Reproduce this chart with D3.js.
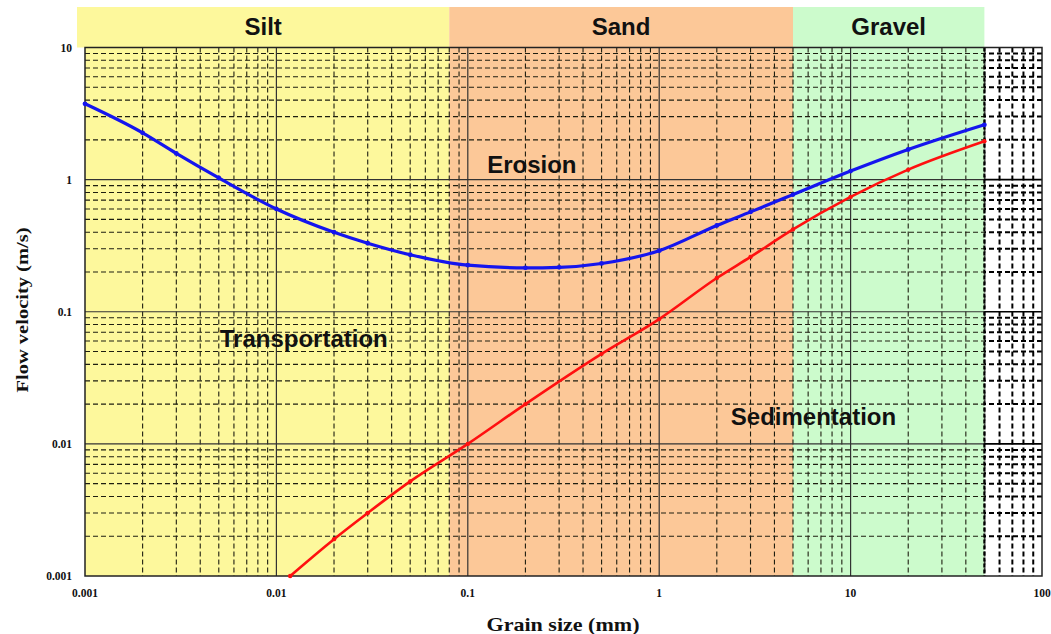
<!DOCTYPE html>
<html>
<head>
<meta charset="utf-8">
<script src="https://cdn.jsdelivr.net/npm/d3@7"></script>
<style>
  html, body { margin: 0; padding: 0; background: #fff; }
  svg { display: block; }
</style>
</head>
<body>
<svg id="chart" width="1051" height="634"></svg>
<script>
// Grain-size classes (mm) and their colours
const bandNames  = ["Silt", "Sand", "Gravel"];
const bandFrom   = [0.001, 0.08, 5];
const bandTo     = [0.08, 5, 50];
const bandColors = ["#fdf89c", "#fcc898", "#ccfbcc"];

// Erosion threshold (upper curve)
const erosionSize     = [0.001, 0.002, 0.003, 0.005, 0.01, 0.02, 0.03, 0.05, 0.1, 0.2, 0.3, 0.5, 1, 2, 3, 5, 10, 20, 50];
const erosionVelocity = [3.75, 2.26, 1.58, 1.03, 0.6, 0.4, 0.33, 0.27, 0.225, 0.215, 0.217, 0.232, 0.29, 0.45, 0.57, 0.77, 1.16, 1.69, 2.6];

// Sedimentation threshold (lower curve)
const sedimentSize     = [0.0118, 0.02, 0.03, 0.05, 0.1, 0.2, 0.5, 1, 2, 3, 5, 10, 20, 50];
const sedimentVelocity = [0.001, 0.0019, 0.003, 0.0052, 0.01, 0.02, 0.048, 0.088, 0.18, 0.26, 0.42, 0.74, 1.19, 1.95];

// Axis ticks
const xTicks = [0.001, 0.01, 0.1, 1, 10, 100];
const xTickLabels = ["0.001", "0.01", "0.1", "1", "10", "100"];
const yTicks = [0.001, 0.01, 0.1, 1, 10];
const yTickLabels = ["0.001", "0.01", "0.1", "1", "10"];

// Region labels
const regionNames = ["Erosion", "Transportation", "Sedimentation"];
const regionSize  = [0.216, 0.0139, 6.4];
const regionVel   = [1.12, 0.054, 0.0139];

const svg = d3.select("#chart");
const plotLeft = 85, plotRight = 1042, plotTop = 47.5, plotBottom = 576;

const x = d3.scaleLog().domain([0.001, 100]).range([plotLeft, plotRight]);
const y = d3.scaleLog().domain([0.001, 10]).range([plotBottom, plotTop]);

const bands = bandNames.map((n, i) => ({ name: n, from: bandFrom[i], to: bandTo[i], color: bandColors[i] }));

// Header strip above the plot
svg.append("g").selectAll("rect").data(bands).join("rect")
  .attr("x", (d, i) => i === 0 ? x(d.from) - 8 : x(d.from))
  .attr("width", (d, i) => x(d.to) - x(d.from) + (i === 0 ? 8 : 0))
  .attr("y", 7).attr("height", plotTop - 7)
  .attr("fill", d => d.color);

svg.append("g").selectAll("text").data(bands).join("text")
  .attr("x", d => (x(d.from) + x(d.to)) / 2 + (d.name === "Silt" ? -4 : 0))
  .attr("y", 35)
  .attr("text-anchor", "middle")
  .attr("font-family", "Arial, 'Liberation Sans', sans-serif")
  .attr("font-weight", "bold")
  .attr("font-size", 24)
  .attr("fill", "#111")
  .text(d => d.name);

// Coloured bands inside the plot
svg.append("g").selectAll("rect").data(bands).join("rect")
  .attr("x", d => x(d.from))
  .attr("width", d => x(d.to) - x(d.from))
  .attr("y", plotTop).attr("height", plotBottom - plotTop)
  .attr("fill", d => d.color);

// Grid lines
const minorX = [], minorY = [];
for (let e = -3; e <= 1; e++) for (let k = 2; k <= 9; k++) minorX.push(k * Math.pow(10, e));
for (let e = -3; e <= 0; e++) for (let k = 2; k <= 9; k++) minorY.push(k * Math.pow(10, e));
const majorX = [0.01, 0.1, 1, 10];
const majorY = [0.01, 0.1, 1];

const defs = svg.append("defs");
defs.append("clipPath").attr("id", "clipColour").append("rect")
  .attr("x", plotLeft).attr("y", plotTop).attr("width", x(50) - plotLeft).attr("height", plotBottom - plotTop);
defs.append("clipPath").attr("id", "clipWhite").append("rect")
  .attr("x", x(50)).attr("y", plotTop).attr("width", plotRight - x(50)).attr("height", plotBottom - plotTop);

function drawGrid(g, minorColor, minorWidth, majorColor, majorWidth) {
  g.selectAll("line.mx").data(minorX).join("line").attr("class", "mx")
    .attr("x1", d => x(d)).attr("x2", d => x(d)).attr("y1", plotTop).attr("y2", plotBottom)
    .attr("stroke", minorColor).attr("stroke-width", minorWidth).attr("stroke-dasharray", "5,3");
  g.selectAll("line.my").data(minorY).join("line").attr("class", "my")
    .attr("x1", plotLeft).attr("x2", plotRight).attr("y1", d => y(d)).attr("y2", d => y(d))
    .attr("stroke", minorColor).attr("stroke-width", minorWidth).attr("stroke-dasharray", "5,3");
  g.selectAll("line.Mx").data(majorX).join("line").attr("class", "Mx")
    .attr("x1", d => x(d)).attr("x2", d => x(d)).attr("y1", plotTop).attr("y2", plotBottom)
    .attr("stroke", majorColor).attr("stroke-width", majorWidth);
  g.selectAll("line.My").data(majorY).join("line").attr("class", "My")
    .attr("x1", plotLeft).attr("x2", plotRight).attr("y1", d => y(d)).attr("y2", d => y(d))
    .attr("stroke", majorColor).attr("stroke-width", majorWidth);
}
drawGrid(svg.append("g").attr("clip-path", "url(#clipColour)"), "#1e1e10", 1.1, "#333", 1.2);
drawGrid(svg.append("g").attr("clip-path", "url(#clipWhite)"), "#000", 2, "#000", 1.6);

// Boundary of the coloured area at 50 mm
svg.append("line")
  .attr("x1", x(50)).attr("x2", x(50)).attr("y1", plotTop).attr("y2", plotBottom)
  .attr("stroke", "#000").attr("stroke-width", 2.2).attr("stroke-dasharray", "4,2");

// Plot frame
svg.append("rect")
  .attr("x", plotLeft).attr("y", plotTop).attr("width", plotRight - plotLeft).attr("height", plotBottom - plotTop)
  .attr("fill", "none").attr("stroke", "#222").attr("stroke-width", 1.5);

// Axis tick labels
const tickFont = "'Liberation Serif', 'Times New Roman', serif";
svg.append("g").selectAll("text").data(yTicks).join("text")
  .attr("x", 72).attr("y", d => y(d) + 4)
  .attr("text-anchor", "end")
  .attr("font-family", tickFont).attr("font-weight", "bold").attr("font-size", 11.5)
  .attr("fill", "#111")
  .text((d, i) => yTickLabels[i]);

svg.append("g").selectAll("text").data(xTicks).join("text")
  .attr("x", d => x(d)).attr("y", 597)
  .attr("text-anchor", "middle")
  .attr("font-family", tickFont).attr("font-weight", "bold").attr("font-size", 11.5)
  .attr("fill", "#111")
  .text((d, i) => xTickLabels[i]);

// Axis titles
svg.append("text")
  .attr("x", 563).attr("y", 631)
  .attr("text-anchor", "middle")
  .attr("font-family", tickFont).attr("font-weight", "bold").attr("font-size", 19)
  .attr("textLength", 153).attr("lengthAdjust", "spacingAndGlyphs")
  .attr("fill", "#111")
  .text("Grain size (mm)");

svg.append("text")
  .attr("transform", "translate(28,310) rotate(-90)")
  .attr("text-anchor", "middle")
  .attr("font-family", tickFont).attr("font-weight", "bold").attr("font-size", 17)
  .attr("textLength", 165).attr("lengthAdjust", "spacingAndGlyphs")
  .attr("fill", "#111")
  .text("Flow velocity (m/s)");

// Threshold curves
const line = d3.line().x(d => x(d[0])).y(d => y(d[1])).curve(d3.curveMonotoneX);
const erosion = erosionSize.map((s, i) => [s, erosionVelocity[i]]);
const sediment = sedimentSize.map((s, i) => [s, sedimentVelocity[i]]);

svg.append("path").datum(sediment)
  .attr("d", line).attr("fill", "none")
  .attr("stroke", "#ff1010").attr("stroke-width", 2.6).attr("stroke-linejoin", "round");
svg.append("g").selectAll("circle").data(sediment).join("circle")
  .attr("cx", d => x(d[0])).attr("cy", d => y(d[1])).attr("r", 2.2).attr("fill", "#ff1010");

svg.append("path").datum(erosion)
  .attr("d", line).attr("fill", "none")
  .attr("stroke", "#1515ee").attr("stroke-width", 3.2).attr("stroke-linejoin", "round");
svg.append("g").selectAll("circle").data(erosion).join("circle")
  .attr("cx", d => x(d[0])).attr("cy", d => y(d[1])).attr("r", 2.4).attr("fill", "#1515ee");

// Region labels
svg.append("g").selectAll("text").data(regionNames).join("text")
  .attr("x", (d, i) => x(regionSize[i]))
  .attr("y", (d, i) => y(regionVel[i]))
  .attr("text-anchor", "middle")
  .attr("font-family", "Arial, 'Liberation Sans', sans-serif")
  .attr("font-weight", "bold").attr("font-size", 24)
  .attr("fill", "#111")
  .text(d => d);
</script>
</body>
</html>
